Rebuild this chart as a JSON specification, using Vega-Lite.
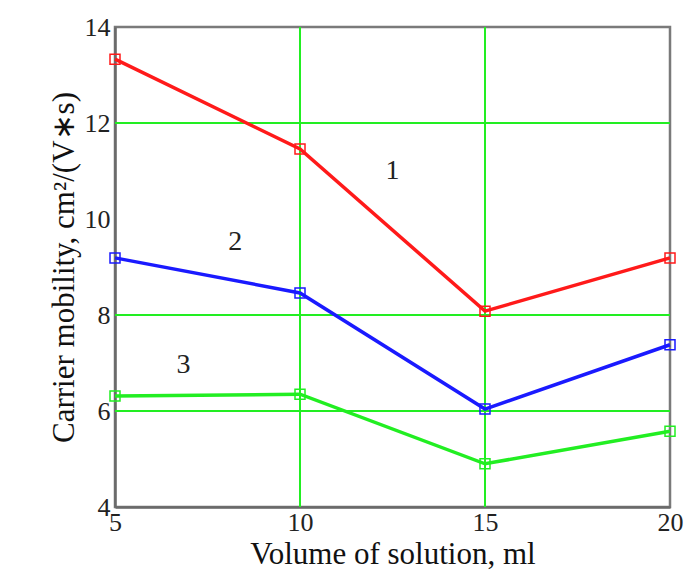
{
  "$schema": "https://vega.github.io/schema/vega-lite/v6.json",
  "autosize": "none",
  "width": 555,
  "height": 480,
  "padding": {"left": 115, "top": 27, "right": 14, "bottom": 68},
  "background": "white",
  "config": {
    "view": {"stroke": "#7a7a7a", "strokeWidth": 2.5},
    "axis": {
      "labelFont": "Liberation Serif",
      "titleFont": "Liberation Serif",
      "labelFontSize": 26,
      "titleFontSize": 31,
      "labelColor": "#222",
      "titleColor": "#111",
      "titleFontWeight": "normal",
      "domainColor": "#6a6a6a",
      "domainWidth": 2.5,
      "ticks": false,
      "grid": false
    }
  },
  "datasets": {
    "curves": [
      {"series": "1", "volume": 5, "mobility": 13.33},
      {"series": "1", "volume": 10, "mobility": 11.46},
      {"series": "1", "volume": 15, "mobility": 8.08},
      {"series": "1", "volume": 20, "mobility": 9.19},
      {"series": "2", "volume": 5, "mobility": 9.19},
      {"series": "2", "volume": 10, "mobility": 8.46},
      {"series": "2", "volume": 15, "mobility": 6.04},
      {"series": "2", "volume": 20, "mobility": 7.38},
      {"series": "3", "volume": 5, "mobility": 6.31},
      {"series": "3", "volume": 10, "mobility": 6.35},
      {"series": "3", "volume": 15, "mobility": 4.9},
      {"series": "3", "volume": 20, "mobility": 5.58}
    ],
    "vgrid": [{"volume": 10}, {"volume": 15}],
    "hgrid": [{"mobility": 12}, {"mobility": 8}, {"mobility": 6}],
    "labels": [
      {"series": "1", "volume": 12.5, "mobility": 11.0},
      {"series": "2", "volume": 8.25, "mobility": 9.52},
      {"series": "3", "volume": 6.85, "mobility": 6.96}
    ]
  },
  "layer": [
    {
      "data": {"name": "vgrid"},
      "mark": {"type": "rule", "color": "#22ee22", "strokeWidth": 2},
      "encoding": {
        "x": {"field": "volume", "type": "quantitative", "scale": {"domain": [5, 20], "nice": false}}
      }
    },
    {
      "data": {"name": "hgrid"},
      "mark": {"type": "rule", "color": "#22ee22", "strokeWidth": 2},
      "encoding": {
        "y": {"field": "mobility", "type": "quantitative", "scale": {"domain": [4, 14], "nice": false}}
      }
    },
    {
      "data": {"name": "curves"},
      "mark": {
        "type": "line",
        "strokeWidth": 3.5,
        "point": {"shape": "square", "filled": false, "size": 100, "strokeWidth": 1.5}
      },
      "encoding": {
        "x": {
          "field": "volume", "type": "quantitative",
          "scale": {"domain": [5, 20], "nice": false},
          "axis": {"values": [5, 10, 15, 20], "title": "Volume of solution, ml", "labelPadding": 2, "titlePadding": 4, "labelFlush": false}
        },
        "y": {
          "field": "mobility", "type": "quantitative",
          "scale": {"domain": [4, 14], "nice": false},
          "axis": {"values": [4, 6, 8, 10, 12, 14], "title": "Carrier mobility, cm²/(V∗s)", "labelPadding": 5, "titlePadding": 4, "labelFlush": false}
        },
        "color": {
          "field": "series", "type": "nominal",
          "scale": {"domain": ["1", "2", "3"], "range": ["#ff1a1a", "#1a1aff", "#22ee22"]},
          "legend": null
        }
      }
    },
    {
      "data": {"name": "labels"},
      "mark": {"type": "text", "font": "Liberation Serif", "fontSize": 28, "color": "#222"},
      "encoding": {
        "x": {"field": "volume", "type": "quantitative"},
        "y": {"field": "mobility", "type": "quantitative"},
        "text": {"field": "series"}
      }
    }
  ]
}
